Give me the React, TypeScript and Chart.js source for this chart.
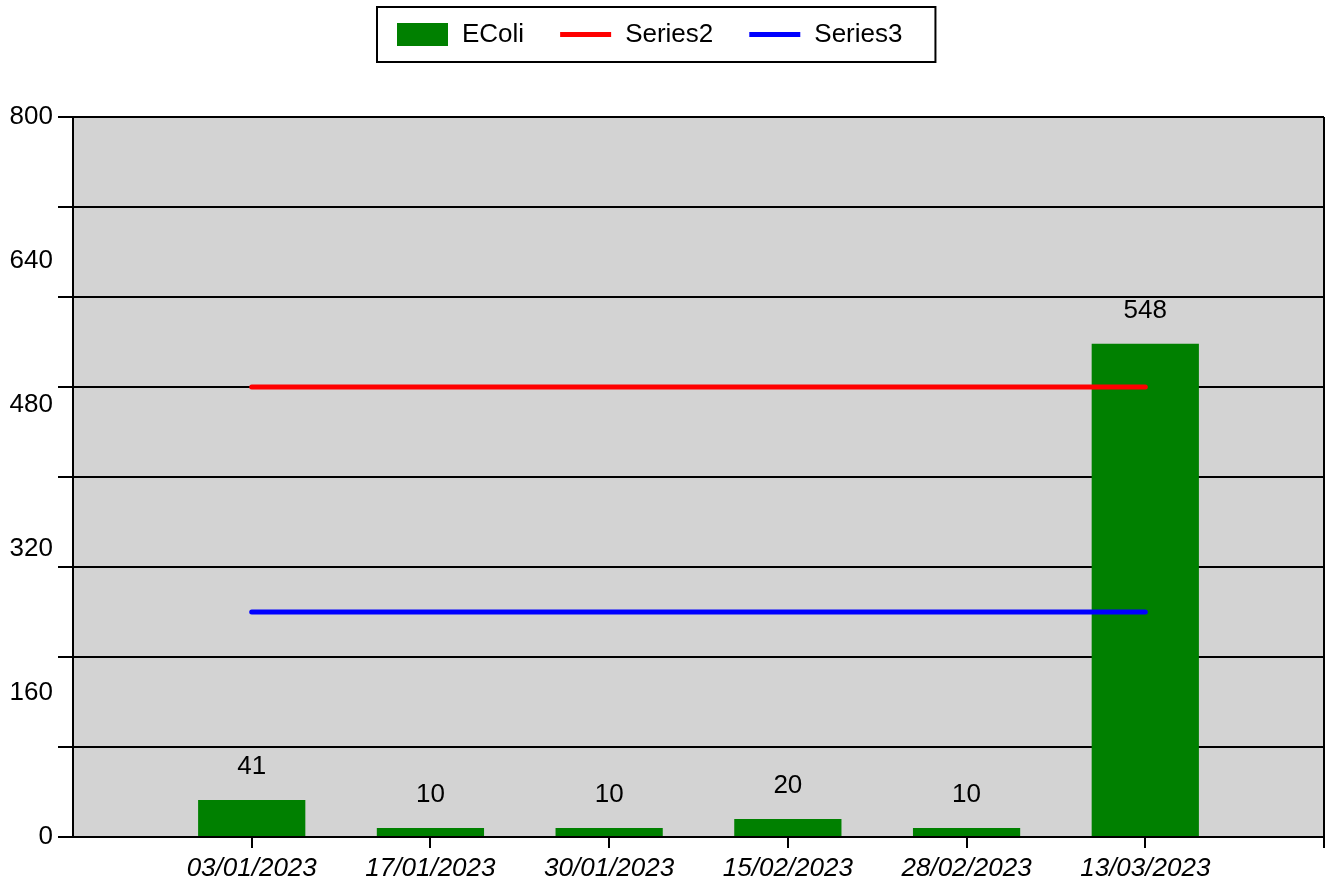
import React, { useEffect, useRef } from 'react';
import { Chart, registerables } from 'chart.js';

Chart.register(...registerables);

const categories = ['03/01/2023', '17/01/2023', '30/01/2023', '15/02/2023', '28/02/2023', '13/03/2023'];
const ecoliValues = [41, 10, 10, 20, 10, 548];
const series2Values = [500, 500, 500, 500, 500, 500];
const series3Values = [250, 250, 250, 250, 250, 250];
const yTickLabels = [0, 160, 320, 480, 640, 800];
const yGridLines = [0, 100, 200, 300, 400, 500, 600, 700, 800];
const seriesNames = ['EColi', 'Series2', 'Series3'];
const seriesColors = ['#008000', '#ff0000', '#0000ff'];

const FONT = "'Liberation Sans', Arial, sans-serif";
const TRANSPARENT = 'rgba(0,0,0,0)';

export default function App() {
  const ref = useRef<HTMLCanvasElement>(null);

  useEffect(() => {
    const canvas = ref.current;
    if (!canvas) return;
    const xMax = categories.length + 1;
    const points = (vals: number[]) => vals.map((v, i) => ({ x: i + 1, y: v }));

    const plotBg = {
      id: 'plotBg',
      beforeDraw(chart: any) {
        const { ctx, chartArea: a } = chart;
        ctx.save();
        ctx.fillStyle = '#d3d3d3';
        ctx.fillRect(a.left, a.top, a.right - a.left, a.bottom - a.top);
        ctx.restore();
      },
    };

    const valueLabels = {
      id: 'valueLabels',
      afterDatasetsDraw(chart: any) {
        const { ctx } = chart;
        const meta = chart.getDatasetMeta(0);
        ctx.save();
        ctx.font = `26px ${FONT}`;
        ctx.fillStyle = '#000';
        ctx.textAlign = 'center';
        ctx.textBaseline = 'middle';
        meta.data.forEach((bar: any, i: number) => {
          ctx.fillText(String(ecoliValues[i]), bar.x, bar.y - 33);
        });
        ctx.restore();
      },
    };

    const boxLegend = {
      id: 'boxLegend',
      afterDraw(chart: any) {
        const { ctx } = chart;
        ctx.save();
        ctx.font = `26px ${FONT}`;
        ctx.textBaseline = 'middle';
        ctx.textAlign = 'left';
        const left = 377;
        const top = 7;
        const height = 55;
        const midY = 34.5;
        let x = left + 20;
        seriesNames.forEach((name, i) => {
          if (i === 0) {
            ctx.fillStyle = seriesColors[i];
            ctx.fillRect(x, 23, 51, 23);
          } else {
            ctx.strokeStyle = seriesColors[i];
            ctx.lineWidth = 5;
            ctx.lineCap = 'butt';
            ctx.beginPath();
            ctx.moveTo(x, midY);
            ctx.lineTo(x + 51, midY);
            ctx.stroke();
          }
          const tx = x + 65;
          ctx.fillStyle = '#000';
          ctx.fillText(name, tx, midY);
          const w = ctx.measureText(name).width;
          x = tx + w + (i === seriesNames.length - 1 ? 33 : 36);
        });
        ctx.strokeStyle = '#000';
        ctx.lineWidth = 2;
        ctx.strokeRect(left, top, x - left, height);
        ctx.restore();
      },
    };

    const allYTicks = Array.from(new Set([...yGridLines, ...yTickLabels])).sort((a, b) => a - b);

    const chart = new Chart(canvas, {
      type: 'bar',
      data: {
        datasets: [
          {
            type: 'bar',
            label: seriesNames[0],
            data: points(ecoliValues),
            backgroundColor: seriesColors[0],
            borderWidth: 0,
            barPercentage: 0.6,
            categoryPercentage: 1,
            order: 3,
          },
          {
            type: 'line',
            label: seriesNames[1],
            data: points(series2Values),
            borderColor: seriesColors[1],
            borderWidth: 5,
            borderCapStyle: 'round',
            pointRadius: 0,
            fill: false,
            order: 1,
          },
          {
            type: 'line',
            label: seriesNames[2],
            data: points(series3Values),
            borderColor: seriesColors[2],
            borderWidth: 5,
            borderCapStyle: 'round',
            pointRadius: 0,
            fill: false,
            order: 2,
          },
        ] as any,
      },
      options: {
        responsive: false,
        animation: false,
        events: [],
        layout: { padding: { top: 117, right: 7, left: 0, bottom: 0 } },
        plugins: {
          legend: { display: false },
          tooltip: { enabled: false },
          title: { display: false },
        },
        scales: {
          x: {
            type: 'linear',
            min: 0,
            max: xMax,
            offset: false,
            afterFit(scale: any) {
              scale.height = 49;
            },
            ticks: {
              stepSize: 1,
              autoSkip: false,
              maxRotation: 0,
              minRotation: 0,
              padding: 5,
              color: '#000',
              font: { family: FONT, size: 26, style: 'italic' },
              callback: (v: any) => {
                const i = Number(v) - 1;
                return i >= 0 && i < categories.length ? categories[i] : '';
              },
            },
            grid: {
              offset: false,
              drawOnChartArea: true,
              drawTicks: true,
              tickLength: 11,
              lineWidth: 2,
              color: (ctx: any) => (ctx.tick && ctx.tick.value === xMax ? '#000' : TRANSPARENT),
              tickColor: (ctx: any) => (ctx.tick && ctx.tick.value === 0 ? TRANSPARENT : '#000'),
            },
            border: { display: true, color: '#000', width: 2 },
          },
          y: {
            type: 'linear',
            min: 0,
            max: 800,
            afterFit(scale: any) {
              scale.width = 73;
            },
            afterBuildTicks(scale: any) {
              scale.ticks = allYTicks.map((v) => ({ value: v }));
            },
            ticks: {
              autoSkip: false,
              padding: 5,
              color: '#000',
              font: { family: FONT, size: 26 },
              callback: (v: any) => (yTickLabels.includes(Number(v)) ? String(v) : ''),
            },
            grid: {
              drawOnChartArea: true,
              drawTicks: true,
              tickLength: 15,
              lineWidth: 2,
              color: (ctx: any) => (ctx.tick && yGridLines.includes(ctx.tick.value) ? '#000' : TRANSPARENT),
            },
            border: { display: true, color: '#000', width: 2 },
          },
        },
      } as any,
      plugins: [plotBg, valueLabels, boxLegend],
    });

    return () => chart.destroy();
  }, []);

  return (
    <div style={{ position: 'absolute', left: 0, top: 0, width: 1331, height: 886, background: '#fff' }}>
      <canvas ref={ref} width={1331} height={886} style={{ display: 'block' }} />
    </div>
  );
}
